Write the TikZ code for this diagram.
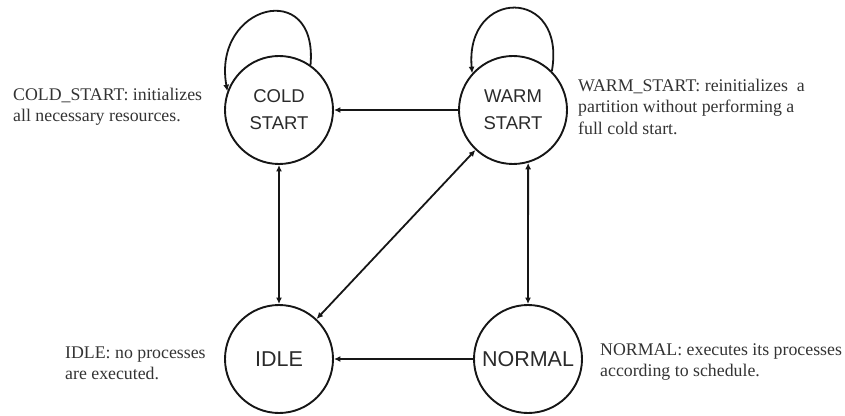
\documentclass[tikz,border=0pt]{standalone}
\usepackage{fontspec}
\setmainfont{Liberation Serif}
\setsansfont{Liberation Sans}
\usetikzlibrary{arrows.meta}
\definecolor{linec}{HTML}{161616}
\definecolor{statetxt}{HTML}{2A2A2A}
\definecolor{desctxt}{HTML}{333333}
\begin{document}
\begin{tikzpicture}[x=1pt,y=1pt,
  state/.style={circle, draw=linec, line width=1.9pt, minimum size=108pt,
    inner sep=0pt, text=statetxt, align=center,
    font=\sffamily\fontsize{18.5}{27}\selectfont},
  bigstate/.style={state, font=\sffamily\fontsize{21.5}{24}\selectfont},
  desc/.style={anchor=north west, inner sep=0pt, align=left, text=desctxt,
    font=\fontsize{17.8}{21.5}\selectfont},
  link/.style={draw=linec, line width=1.8pt},
  onetip/.style={-{Latex[length=6.5pt,width=6pt]}},
  twotips/.style={{Latex[length=6.5pt,width=6pt]}-{Latex[length=6.5pt,width=6pt]}},
]
\useasboundingbox (0,0) rectangle (845,415);

% states
\node[state] (cold) at (279,305) {COLD\\START};
\node[state] (warm) at (513,305) {WARM\\START};
\node[bigstate] (idle) at (279,56) {IDLE};
\node[bigstate] (normal) at (528,56) {NORMAL};

% self loops
\draw[link, onetip] (cold.55) .. controls +(85:88) and +(100:88) .. (cold.160);
\draw[link, onetip] (warm.45) .. controls +(80:86) and +(95:86) .. (warm.138);

% transitions
\draw[link, onetip] (warm) -- (cold);
\draw[link, twotips] (cold) -- (idle);
\draw[link, twotips] (idle) -- (warm);
\draw[link, twotips] (warm.-74) -- (normal.north);
\draw[link, onetip] (normal) -- (idle);

% descriptions
\node[desc] (dcold) at (13,327.5) {COLD\_START: initializes\\all necessary resources.};
\node[desc] (dwarm) at (578,336.5) {WARM\_START: reinitializes\ \ a\\partition without performing a\\full cold start.};
\node[desc] (didle) at (65,68.5) {IDLE: no processes\\are executed.};
\node[desc] (dnormal) at (600,71.5) {NORMAL: executes its processes\\according to schedule.};
\end{tikzpicture}
\end{document}
